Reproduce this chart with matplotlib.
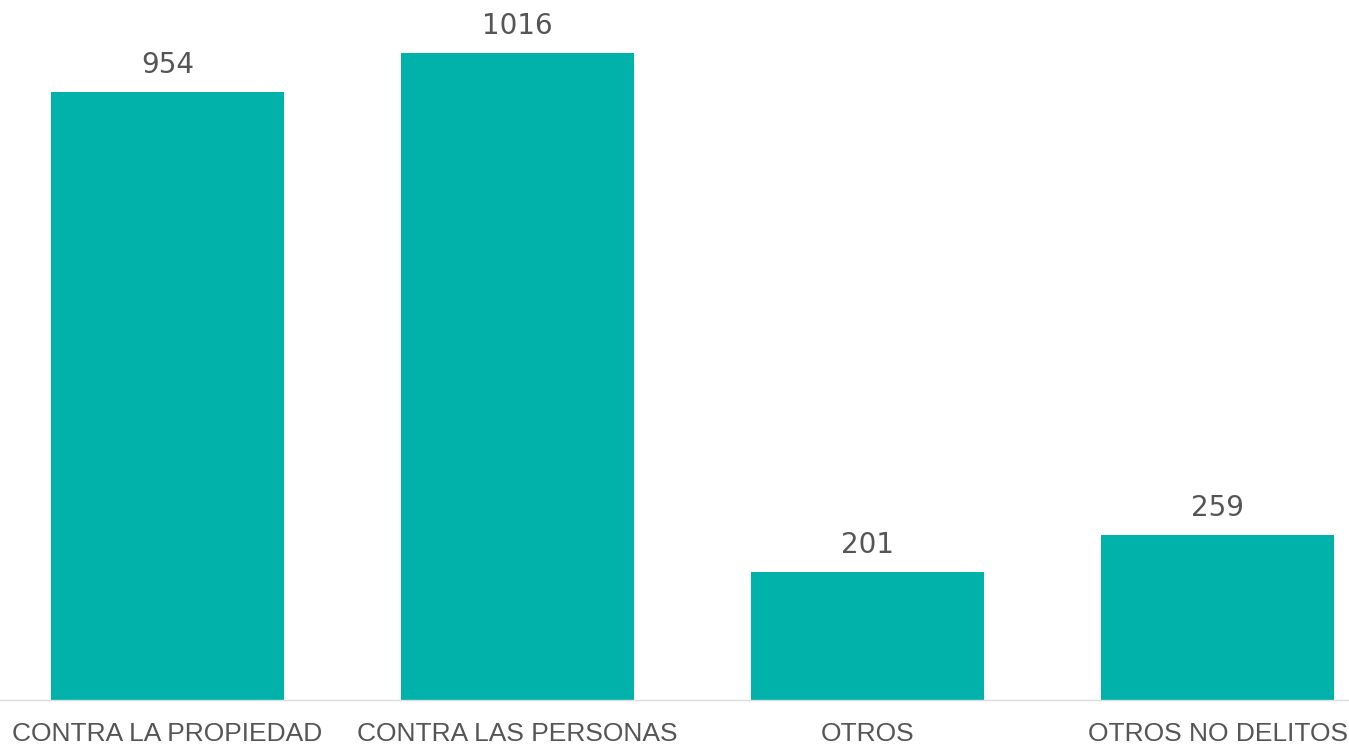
import matplotlib.pyplot as plt

categories = ["CONTRA LA PROPIEDAD", "CONTRA LAS PERSONAS", "OTROS", "OTROS NO DELITOS"]
values = [954, 1016, 201, 259]

bar_color = "#00b2aa"
text_color = "#555555"

fig = plt.figure(figsize=(13.49, 7.48), dpi=100)
ax = fig.add_axes([0, 48 / 748, 1, 700 / 748])

x = list(range(len(categories)))
ax.bar(x, values, width=0.666, color=bar_color)

for xi, v in zip(x, values):
    ax.text(xi, v + 20, str(v), ha="center", va="bottom",
            fontsize=20, color=text_color, family="DejaVu Sans")

ax.set_xlim(-167.5 / 350, (1349 - 167.5) / 350)
ax.set_ylim(0, 700 / 0.6373)

for s in ["top", "right", "left"]:
    ax.spines[s].set_visible(False)
ax.spines["bottom"].set_color("#dddddd")
ax.spines["bottom"].set_linewidth(1)

ax.set_yticks([])
ax.set_xticks(x)
ax.set_xticklabels(categories, fontsize=19, color=text_color, family="Liberation Sans")
ax.tick_params(axis="x", length=0, pad=16)

fig.savefig("out.png", dpi=100)
